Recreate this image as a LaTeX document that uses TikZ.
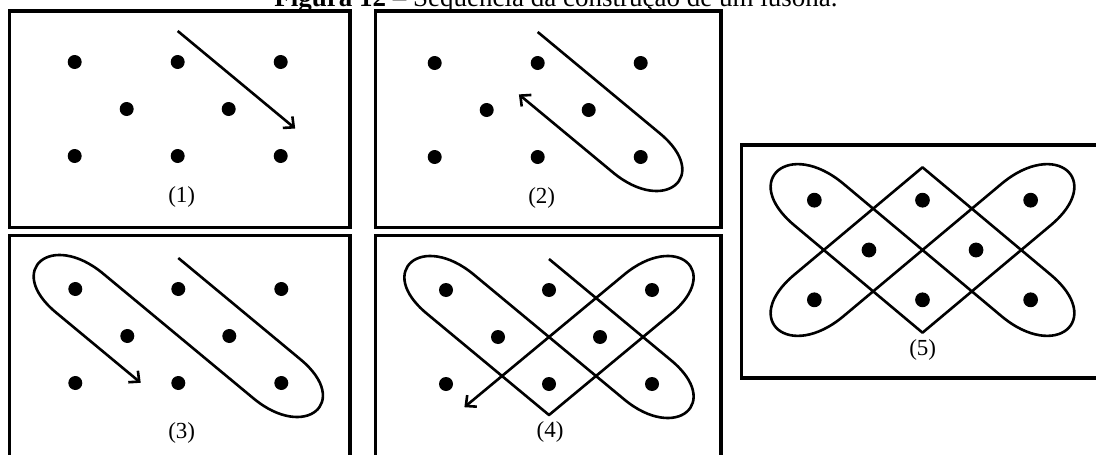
\documentclass[tikz,border=0pt]{standalone}
\usepackage{fontspec}
\setmainfont{Liberation Serif}
\usetikzlibrary{arrows.meta}
\tikzset{
	moldura/.style={line width=3.5pt},
	grade/.style={x={(47pt,-39pt)},y={(47pt,39pt)}},
	linha/.style={line width=2.6pt,line join=round},
	seta/.style={linha,-{Straight Barb[length=8pt,width=15pt]}},
	rotulo/.style={font=\fontsize{23}{23}\selectfont},
	titulo/.style={font=\fontsize{27}{27}\selectfont,anchor=base}
}
\newcommand{\pontos}{\foreach \px/\py in {-103/47,0/47,103/47,-51/0,51/0,-103/-47,0/-47,103/-47}
	\fill (\px pt,\py pt) circle (7pt);}
\begin{document}
\begin{tikzpicture}[x=1pt,y=-1pt]
		\useasboundingbox (0,0) rectangle (1096,455);
		\node[titulo] (tit) at (556,6) {\textbf{Figura 12} -- Sequência da construção de um lusona.};
		%first
		\draw[moldura] (9.5,11) rectangle (350,227.5);
		\begin{scope}[shift={(177.7,109)},grade]
			\pontos
			\draw[seta] (-1,1) -- (1.5,1);
		\end{scope}
		\node[rotulo] (r1) at (181.7,196.7) {(1)};
		%second
		\draw[moldura] (375.5,11) rectangle (721,227.5);
		\begin{scope}[shift={(537.7,110)},grade]
			\pontos
			\draw[seta] (-1,1) -- (1.6,1) .. controls (2.7,1) and (2.7,0) .. (1.6,0) -- (-0.4,0);
		\end{scope}
		\node[rotulo] (r2) at (541.7,198.3) {(2)};
		%third
		\draw[moldura] (9.5,235.5) rectangle (350,470);
		\begin{scope}[shift={(178.3,336)},grade]
			\pontos
			\draw[seta] (-1,1) -- (1.6,1) .. controls (2.7,1) and (2.7,0) .. (1.6,0) -- (-1.6,0)
				.. controls (-2.7,0) and (-2.7,-1) .. (-1.6,-1) -- (0.2,-1);
		\end{scope}
		\node[rotulo] (r3) at (181.7,433.3) {(3)};
		%fourth
		\draw[moldura] (375.5,235.5) rectangle (721,470);
		\begin{scope}[shift={(549,337)},grade]
			\pontos
			\draw[seta] (-1,1) -- (1.6,1) .. controls (2.7,1) and (2.7,0) .. (1.6,0) -- (-1.6,0)
				.. controls (-2.7,0) and (-2.7,-1) .. (-1.6,-1) -- (1,-1) -- (1,1.6)
				.. controls (1,2.7) and (0,2.7) .. (0,1.6) -- (0,-1.8);
		\end{scope}
		\node[rotulo] (r4) at (550,431.7) {(4)};
		%fifth
		\draw[moldura] (741.5,145) rectangle (1100,378);
		\begin{scope}[shift={(922.5,250)},xscale=1.05,yscale=1.06,grade]
			\pontos
			\draw[linha] (-1,1) -- (1.6,1) .. controls (2.7,1) and (2.7,0) .. (1.6,0) -- (-1.6,0)
				.. controls (-2.7,0) and (-2.7,-1) .. (-1.6,-1) -- (1,-1) -- (1,1.6)
				.. controls (1,2.7) and (0,2.7) .. (0,1.6) -- (0,-1.6)
				.. controls (0,-2.7) and (-1,-2.7) .. (-1,-1.6) -- cycle;
		\end{scope}
		\node[rotulo] (r5) at (922.7,350) {(5)};
\end{tikzpicture}
\end{document}
